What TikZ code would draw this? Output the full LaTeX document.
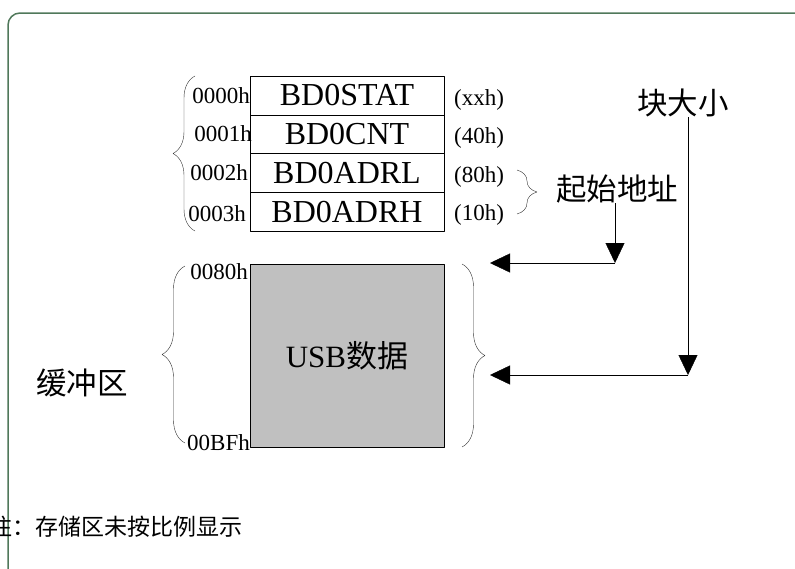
\documentclass[tikz,border=0pt]{standalone}
\usepackage{fontspec}
\setmainfont{Liberation Serif}
\newfontfamily\cjk{Noto Sans CJK SC}
\usetikzlibrary{arrows.meta,decorations.pathreplacing}
\definecolor{framegreen}{RGB}{80,120,90}
\definecolor{bufgray}{RGB}{192,192,192}
\tikzset{
  cell/.style={draw,minimum width=194pt,minimum height=38.75pt,inner sep=0pt,font=\fontsize{32}{32}\selectfont},
  addr/.style={inner sep=0pt,font=\fontsize{23}{23}\selectfont},
  zh/.style={inner sep=0pt,font=\cjk\fontsize{30.5}{30.5}\selectfont},
  brc/.style={decorate,decoration={brace,amplitude=#1},draw=black!80},
}
\begin{document}
\begin{tikzpicture}[x=1pt,y=-1pt,>={Triangle[length=20pt,width=19pt]},line join=round]
        \useasboundingbox (0,0) rectangle (795,568);
        \draw[framegreen,line width=1.5pt,rounded corners=12pt] (8,640) -- (8,13) -- (860,13);
        % buffer descriptor table
        \node[cell] (stat) at (347,95.4) {BD0STAT};
        \node[cell] (cnt) at (347,134.1) {BD0CNT};
        \node[cell] (adrl) at (347,172.9) {BD0ADRL};
        \node[cell] (adrh) at (347,211.6) {BD0ADRH};
        \node[addr,anchor=east] (a0) at (250,96) {0000h};
        \node[addr,anchor=east] (a1) at (252,134) {0001h};
        \node[addr,anchor=east] (a2) at (248,173) {0002h};
        \node[addr,anchor=east] (a3) at (246,214) {0003h};
        \node[addr,anchor=west] (v0) at (454,100) {(xxh)};
        \node[addr,anchor=west] (v1) at (454,138) {(40h)};
        \node[addr,anchor=west] (v2) at (454,177) {(80h)};
        \node[addr,anchor=west] (v3) at (454,215) {(10h)};
        \draw[brc=22pt] (195,231) -- (195,76);
        \draw[brc=20pt] (517,170) -- (517,214);
        \node[zh] (start) at (617,189) {起始地址};
        \node[zh] (size) at (683,103) {块大小};
        % buffer
        \node[draw,fill=bufgray,minimum width=194pt,minimum height=183pt,inner sep=0pt,
              font=\fontsize{31}{31}\selectfont] (buf) at (347,355.5) {USB{\cjk 数据}};
        \node[addr,anchor=east] (b0) at (248,272) {0080h};
        \node[addr,anchor=east] (b1) at (250,443) {00BFh};
        \draw[brc=23pt] (185,443) -- (185,266);
        \draw[brc=23pt] (462,264) -- (462,447);
        \node[zh] (bufname) at (82,383) {缓冲区};
        \coordinate (c1) at (start.south -| 615,0);
        \coordinate (t1) at (615,263);
        \coordinate (p1) at (490,263);
        \coordinate (c2) at (size.south -| 688,0);
        \coordinate (t2) at (688,375);
        \coordinate (p2) at (490,375);
        \draw[->] (c1) -- (t1);
        \draw[->] (t1) -- (p1);
        \draw[->] (c2) -- (t2);
        \draw[->] (t2) -- (p2);
        \node[inner sep=0pt,anchor=west,font=\cjk\fontsize{23}{23}\selectfont] (note) at (-11,527) {注：存储区未按比例显示};
\end{tikzpicture}
\end{document}
